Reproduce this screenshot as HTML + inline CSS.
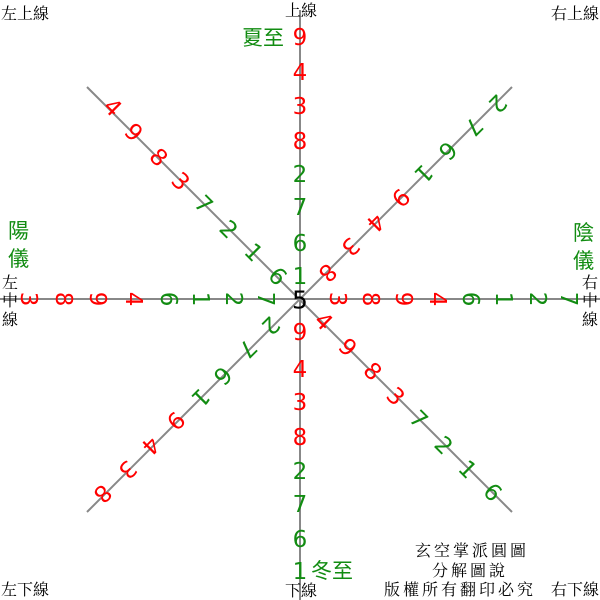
<!DOCTYPE html>
<html><head><meta charset="utf-8"><style>
html,body{margin:0;padding:0;background:#fff;}
svg{display:block;}
.d{font-family:"DejaVu Sans","Liberation Sans",sans-serif;font-size:23px;text-anchor:middle;dominant-baseline:central;}
.r{fill:#f00;}
.g{fill:#128c12;}
.k{font-family:"Liberation Serif","Noto Serif CJK SC",serif;font-size:16px;fill:#000;}
.n{letter-spacing:3px;}
.gl{font-family:"Liberation Sans","Noto Sans CJK TC",sans-serif;font-size:21px;fill:#128c12;}
</style></head><body>
<svg width="600" height="600" viewBox="0 0 600 600" xmlns="http://www.w3.org/2000/svg">
<g stroke="#888" stroke-width="2">
<line x1="300" y1="10" x2="300" y2="600"/>
<line x1="0" y1="299" x2="600" y2="299"/>
<line x1="87" y1="87" x2="512" y2="512"/>
<line x1="512" y1="87" x2="87" y2="512"/>
</g>
<g class="d">
<text class="r" x="300" y="38">9</text>
<text class="r" x="300" y="73">4</text>
<text class="r" x="300" y="107">3</text>
<text class="r" x="300" y="142">8</text>
<text class="g" x="300" y="175">2</text>
<text class="g" x="300" y="208">7</text>
<text class="g" x="300" y="244">6</text>
<text class="g" x="300" y="277">1</text>
<text class="r" x="300" y="333">9</text>
<text class="r" x="300" y="370">4</text>
<text class="r" x="300" y="403">3</text>
<text class="r" x="300" y="438">8</text>
<text class="g" x="300" y="472">2</text>
<text class="g" x="300" y="505">7</text>
<text class="g" x="300" y="540">6</text>
<text class="g" x="300" y="572">1</text>
</g>
<g class="d">
<text class="r" transform="translate(28,299) rotate(90)">3</text>
<text class="r" transform="translate(63,299) rotate(90)">8</text>
<text class="r" transform="translate(97,299) rotate(90)">9</text>
<text class="r" transform="translate(133,299) rotate(90)">4</text>
<text class="g" transform="translate(168,299) rotate(90)">6</text>
<text class="g" transform="translate(200,299) rotate(90)">1</text>
<text class="g" transform="translate(233,299) rotate(90)">2</text>
<text class="g" transform="translate(265,299) rotate(90)">7</text>
<text class="r" transform="translate(337,299) rotate(90)">3</text>
<text class="r" transform="translate(370,299) rotate(90)">8</text>
<text class="r" transform="translate(403,299) rotate(90)">9</text>
<text class="r" transform="translate(437,299) rotate(90)">4</text>
<text class="g" transform="translate(470,299) rotate(90)">6</text>
<text class="g" transform="translate(503,299) rotate(90)">1</text>
<text class="g" transform="translate(537,299) rotate(90)">2</text>
<text class="g" transform="translate(568,299) rotate(90)">7</text>
</g>
<g class="d">
<text class="r" transform="translate(112,108) rotate(45)">4</text>
<text class="r" transform="translate(133,133) rotate(45)">9</text>
<text class="r" transform="translate(158,158) rotate(45)">8</text>
<text class="r" transform="translate(180,182) rotate(45)">3</text>
<text class="g" transform="translate(203,205) rotate(45)">7</text>
<text class="g" transform="translate(228,230) rotate(45)">2</text>
<text class="g" transform="translate(253,253) rotate(45)">1</text>
<text class="g" transform="translate(277,277) rotate(45)">6</text>
<text class="r" transform="translate(323,322) rotate(45)">4</text>
<text class="r" transform="translate(347,348) rotate(45)">9</text>
<text class="r" transform="translate(372,372) rotate(45)">8</text>
<text class="r" transform="translate(395,397) rotate(45)">3</text>
<text class="g" transform="translate(418,420) rotate(45)">7</text>
<text class="g" transform="translate(443,446) rotate(45)">2</text>
<text class="g" transform="translate(467,470) rotate(45)">1</text>
<text class="g" transform="translate(492,493) rotate(45)">6</text>
</g>
<g class="d">
<text class="r" transform="translate(327,272) rotate(135)">8</text>
<text class="r" transform="translate(350,246) rotate(135)">3</text>
<text class="r" transform="translate(375,222) rotate(135)">4</text>
<text class="r" transform="translate(400,197) rotate(135)">9</text>
<text class="g" transform="translate(423,173) rotate(135)">1</text>
<text class="g" transform="translate(447,150) rotate(135)">6</text>
<text class="g" transform="translate(473,126) rotate(135)">7</text>
<text class="g" transform="translate(497,103) rotate(135)">2</text>
<text class="g" transform="translate(270,325) rotate(135)">2</text>
<text class="g" transform="translate(247,348) rotate(135)">7</text>
<text class="g" transform="translate(222,375) rotate(135)">6</text>
<text class="g" transform="translate(200,397) rotate(135)">1</text>
<text class="r" transform="translate(175,420) rotate(135)">9</text>
<text class="r" transform="translate(150,445) rotate(135)">4</text>
<text class="r" transform="translate(127,469) rotate(135)">3</text>
<text class="r" transform="translate(102,493) rotate(135)">8</text>
</g>
<text class="d" x="300" y="300" style="font-size:25px;fill:#000">5</text>
<text class="k" x="1" y="19">左上線</text>
<text class="k" x="301" y="16" text-anchor="middle">上線</text>
<text class="k" x="599" y="19" text-anchor="end">右上線</text>
<text class="k" x="1" y="595">左下線</text>
<text class="k" x="301" y="596" text-anchor="middle">下線</text>
<text class="k" x="599" y="595" text-anchor="end">右下線</text>
<text class="k n" x="472" y="556" text-anchor="middle">玄空掌派圓圖</text>
<text class="k n" x="470" y="576" text-anchor="middle">分解圖說</text>
<text class="k n" x="460" y="595" text-anchor="middle">版權所有翻印必究</text>
<text class="gl" x="242" y="45">夏至</text>
<text class="gl" x="311" y="578">冬至</text>
<text class="gl" x="8" y="238">陽</text>
<text class="gl" x="8" y="266">儀</text>
<text class="gl" x="573" y="240">陰</text>
<text class="gl" x="573" y="268">儀</text>
<text class="k" x="10" y="288" text-anchor="middle">左</text>
<text class="k" x="10" y="306" text-anchor="middle">中</text>
<text class="k" x="10" y="325" text-anchor="middle">線</text>
<text class="k" x="590" y="288" text-anchor="middle">右</text>
<text class="k" x="590" y="306" text-anchor="middle">中</text>
<text class="k" x="590" y="325" text-anchor="middle">線</text>
</svg>
</body></html>
